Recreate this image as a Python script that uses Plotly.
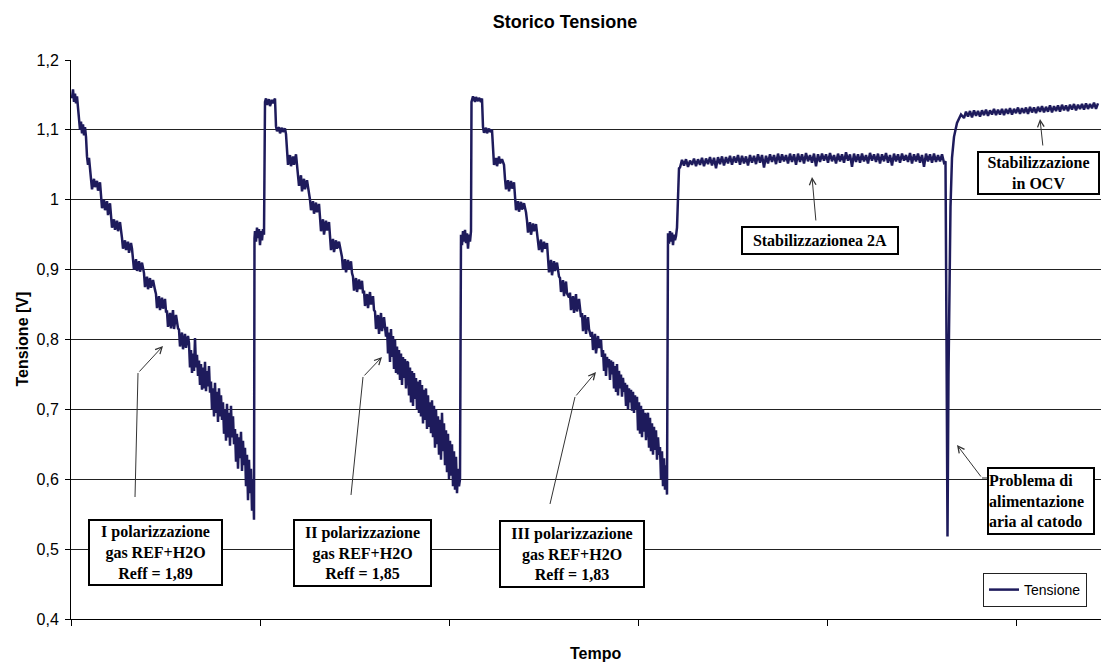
import plotly.graph_objects as go

# ---------------- data ----------------
# Tempo is in arbitrary units (no tick labels on the original axis)
tempo_pol1 = [1,2,3,4,5,6,7, 8,9,10,11,12,13,14,15, 16,17,18,19,
              20,21,23,24,26,27,29, 30,31,33,34,36,37,39,
              40,41,43,44,46,47,49,50, 51,52,54,55,57,58,60,61,
              62,63,65,66,68,69,71,72, 73,74,76,77,79,80,82,84,
              85,86,88,89,91,92,94,95, 96,97,99,100,102,103,105,107,
              108,109,111,112,114,115,117,
              118,119,120,121,122,123,124,125,126,127,
              128,129,130,131,132,133,134,135,136,137,138,139,
              140,141,142,143,144,145,146,147,148,149,150,151,
              152,153,154,155,156,157,158,159,160,161,162,163,
              164,165,166,167,168,169,170,171,172,173,
              174,175,176,177,178,179,180,181,182,183,
              183.5, 184,185,186,187,188,189,190,191,192,193,
              193.5, 194,195,196,198,199,201,202,204]
tensione_pol1 = [1.145,1.158,1.14,1.152,1.138,1.148,1.132,
                 1.118,1.1,1.112,1.095,1.108,1.092,1.104,1.09,
                 1.062,1.05,1.06,1.046,
                 1.028,1.015,1.03,1.018,1.027,1.013,1.025,
                 1.003,0.988,1.0,0.985,0.998,0.978,0.995,
                 0.975,0.96,0.972,0.957,0.97,0.955,0.968,0.958,
                 0.945,0.93,0.942,0.928,0.94,0.924,0.938,0.93,
                 0.918,0.9,0.915,0.898,0.912,0.897,0.91,0.9,
                 0.895,0.875,0.89,0.872,0.888,0.874,0.885,0.871,
                 0.865,0.845,0.862,0.842,0.86,0.844,0.858,0.84,
                 0.84,0.818,0.838,0.816,0.842,0.815,0.835,0.816,
                 0.814,0.79,0.81,0.786,0.808,0.788,0.805,
                 0.795,0.76,0.785,0.752,0.78,0.755,0.802,0.76,0.778,0.748,
                 0.77,0.735,0.765,0.728,0.76,0.73,0.768,0.726,0.755,0.733,0.762,0.724,
                 0.74,0.7,0.73,0.69,0.738,0.695,0.725,0.682,0.73,0.69,0.72,0.685,
                 0.71,0.665,0.7,0.655,0.708,0.66,0.695,0.648,0.705,0.66,0.69,0.65,
                 0.672,0.625,0.665,0.615,0.66,0.63,0.668,0.612,0.655,0.62,
                 0.645,0.59,0.635,0.57,0.628,0.58,0.615,0.555,0.6,0.542,
                 0.945, 0.955,0.94,0.96,0.945,0.958,0.935,0.955,0.942,0.958,0.95,
                 1.135, 1.14,1.145,1.136,1.144,1.134,1.143,1.138,1.145]

tempo_pol2 = [205,206,208,209,211,212,214,215, 216,217,219,220,222,223,225,226,
              227,228,230,231,233,234,236,238, 239,240,242,243,245,246,248,
              249,250,252,253,255,256,258, 259,260,262,263,265,266,268,270,
              271,272,274,275,277,278,280,281, 282,283,285,286,288,289,291,292,
              293,294,296,297,299,300,302,303, 304,305,307,308,310,311,313,315,
              316,317,318,319,320,321,322,323,324,325,
              326,327,328,329,330,331,332,333,334,335,336,
              337,338,339,340,341,342,343,344,345,346,347,348,
              349,350,351,352,353,354,355,356,357,358,359,360,
              361,362,363,364,365,366,367,368,369,370,
              371,372,373,374,375,376,377,378,379,380,381,382,383,384,385,386,387,388,389,
              389.5, 390,391,392,393,394,395,396,397,398,399,400,
              400.5, 401,402,404,405,407,408,410,411]
tensione_pol2 = [1.105,1.098,1.104,1.095,1.103,1.097,1.102,1.094,
                 1.067,1.05,1.064,1.048,1.062,1.05,1.065,1.047,
                 1.04,1.02,1.035,1.012,1.03,1.015,1.028,1.01,
                 1.0,0.985,0.998,0.98,0.996,0.982,0.994,
                 0.975,0.955,0.972,0.95,0.97,0.956,0.968,
                 0.946,0.928,0.944,0.925,0.942,0.93,0.94,0.924,
                 0.918,0.9,0.915,0.896,0.914,0.9,0.912,0.895,
                 0.89,0.87,0.888,0.868,0.886,0.872,0.884,0.866,
                 0.87,0.848,0.865,0.845,0.868,0.85,0.862,0.842,
                 0.84,0.815,0.835,0.808,0.838,0.812,0.832,0.804,
                 0.818,0.78,0.81,0.768,0.815,0.775,0.805,0.758,0.8,0.752,
                 0.79,0.75,0.785,0.742,0.78,0.735,0.775,0.745,0.772,0.73,0.768,
                 0.767,0.72,0.76,0.71,0.755,0.705,0.752,0.715,0.745,0.7,0.74,0.695,
                 0.742,0.69,0.735,0.68,0.728,0.685,0.73,0.672,0.72,0.675,0.71,0.666,
                 0.713,0.66,0.705,0.645,0.7,0.65,0.69,0.635,0.685,0.628,
                 0.695,0.64,0.68,0.62,0.67,0.61,0.665,0.6,0.655,0.605,0.65,0.59,0.64,0.585,0.632,0.58,0.615,0.59,0.6,
                 0.935, 0.95,0.935,0.955,0.94,0.957,0.938,0.952,0.93,0.95,0.94,0.955,
                 1.14, 1.142,1.148,1.14,1.147,1.141,1.146,1.14,1.145]

tempo_pol3 = [412,413,415,416,418,419,421, 422,423,425,426,428,429,431,433,
              434,435,437,438,440,441,443, 444,445,447,448,450,451,453,455,
              456,457,459,460,462,463,465,466, 467,468,470,471,473,474,476,
              477,478,480,481,483,484,486,488, 489,490,492,493,495,496,498,
              499,500,502,503,505,506,508,510, 511,512,514,515,517,518,520,
              521,522,524,525,527,528,530,531,
              532,533,534,535,536,537,538,539,540,541,
              542,543,544,545,546,547,548,549,550,551,552,553,
              554,555,556,557,558,559,560,561,562,563,564,565,
              566,567,568,569,570,571,572,573,574,575,576,
              577,578,579,580,581,582,583,584,585,586,587,588,
              589,590,591,592,593,594,595,596,
              596.5, 597,598,599,600,601,602,603,604,605, 606,607,608]
tensione_pol3 = [1.104,1.096,1.103,1.095,1.102,1.097,1.1,
                 1.063,1.05,1.06,1.048,1.062,1.052,1.058,1.05,
                 1.03,1.015,1.028,1.012,1.027,1.016,1.025,
                 1.0,0.985,0.998,0.983,0.997,0.986,0.995,0.982,
                 0.97,0.953,0.968,0.95,0.966,0.955,0.965,0.95,
                 0.945,0.928,0.943,0.925,0.94,0.93,0.938,
                 0.917,0.896,0.914,0.892,0.912,0.898,0.91,0.89,
                 0.888,0.868,0.885,0.862,0.883,0.866,0.86,
                 0.867,0.842,0.862,0.838,0.865,0.84,0.858,0.832,
                 0.838,0.812,0.835,0.808,0.832,0.815,0.804,
                 0.811,0.785,0.808,0.78,0.805,0.788,0.8,0.775,
                 0.785,0.755,0.78,0.748,0.775,0.76,0.772,0.742,0.77,0.75,
                 0.768,0.73,0.762,0.725,0.765,0.72,0.755,0.73,0.75,0.718,0.745,0.725,
                 0.738,0.705,0.735,0.7,0.73,0.71,0.728,0.698,0.725,0.695,0.72,0.7,
                 0.718,0.67,0.71,0.665,0.705,0.66,0.7,0.668,0.695,0.656,0.69,
                 0.695,0.645,0.688,0.64,0.68,0.635,0.675,0.642,0.67,0.628,0.66,0.635,
                 0.646,0.6,0.64,0.59,0.63,0.585,0.62,0.578,
                 0.94, 0.952,0.937,0.955,0.94,0.953,0.935,0.95,0.942,0.948, 0.96,1.01,1.045]

tempo_2a = list(range(609, 875, 2))
tensione_2a = [1.046,1.057,1.049,1.058,1.047,1.056,1.05,1.059,1.048,1.058,
               1.05,1.06,1.048,1.059,1.051,1.061,1.049,1.06,1.045,1.061,
               1.051,1.062,1.049,1.061,1.052,1.063,1.05,1.062,1.053,1.064,
               1.05,1.063,1.052,1.062,1.049,1.064,1.053,1.063,1.051,1.065,
               1.053,1.064,1.046,1.063,1.052,1.065,1.054,1.064,1.051,1.066,
               1.053,1.065,1.055,1.064,1.052,1.066,1.054,1.065,1.05,1.066,
               1.054,1.065,1.052,1.067,1.055,1.064,1.053,1.066,1.048,1.065,
               1.054,1.066,1.056,1.065,1.053,1.067,1.055,1.064,1.052,1.066,
               1.055,1.065,1.053,1.068,1.056,1.065,1.047,1.066,1.054,1.065,
               1.053,1.066,1.055,1.064,1.052,1.067,1.056,1.065,1.054,1.066,
               1.052,1.065,1.055,1.067,1.053,1.064,1.049,1.066,1.055,1.065,
               1.053,1.066,1.056,1.064,1.054,1.067,1.052,1.065,1.055,1.066,
               1.053,1.064,1.047,1.066,1.055,1.065,1.053,1.066,1.054,1.064,
               1.055,1.065,1.053]

tempo_guasto = [874.5, 875.5, 876.5, 877.5, 878.5, 879.5, 881, 883, 886, 890]
tensione_guasto = [1.055, 0.8, 0.518, 0.75, 0.9, 0.99, 1.06, 1.09, 1.11, 1.122]

tempo_ocv = list(range(893, 1029, 2))
tensione_ocv = [1.117,1.126,1.119,1.127,1.118,1.128,1.12,1.127,1.119,1.128,
                1.121,1.129,1.12,1.128,1.122,1.13,1.121,1.129,1.122,1.13,
                1.121,1.13,1.123,1.131,1.122,1.13,1.124,1.132,1.123,1.131,
                1.124,1.132,1.123,1.133,1.125,1.132,1.124,1.133,1.126,1.134,
                1.125,1.133,1.126,1.135,1.125,1.134,1.127,1.135,1.126,1.136,
                1.128,1.135,1.127,1.136,1.129,1.137,1.128,1.136,1.13,1.137,
                1.129,1.138,1.13,1.137,1.131,1.139,1.13,1.138]

y_ticks = [0.4, 0.5, 0.6, 0.7, 0.8, 0.9, 1.0, 1.1, 1.2]
y_labels = ["0,4", "0,5", "0,6", "0,7", "0,8", "0,9", "1", "1,1", "1,2"]
x_ticks = [0, 189, 378, 567, 756, 945]

tempo = tempo_pol1 + tempo_pol2 + tempo_pol3 + tempo_2a + tempo_guasto + tempo_ocv
tensione = tensione_pol1 + tensione_pol2 + tensione_pol3 + tensione_2a + tensione_guasto + tensione_ocv

# ---------------- figure ----------------
NAVY = "#1e1b5c"
SANS = "Liberation Sans, Arial, sans-serif"
SERIF = "Liberation Serif, Times New Roman, serif"

fig = go.Figure()
fig.add_trace(go.Scatter(x=tempo, y=tensione, mode="lines", name="Tensione",
                         line=dict(color=NAVY, width=2.5)))

fig.update_layout(
    width=1101, height=662,
    margin=dict(l=71, r=0, t=60, b=43),
    paper_bgcolor="white", plot_bgcolor="white",
    font=dict(family=SANS, color="black"),
    title=dict(text="<b>Storico Tensione</b>", x=565/1101, xanchor="center",
               y=1-22/662, yanchor="middle", font=dict(family=SANS, size=18, color="black")),
    showlegend=True,
    legend=dict(x=(983-71)/1030, y=(619-573)/559, xanchor="left", yanchor="top",
                bgcolor="white", bordercolor="#222", borderwidth=1,
                font=dict(family=SANS, size=14, color="black"), itemwidth=30),
)
fig.update_xaxes(range=[0, 1030], tickvals=x_ticks, ticktext=[""] * len(x_ticks),
                 ticks="outside", ticklen=6, tickcolor="black", showgrid=False,
                 showline=True, linecolor="black", linewidth=1, zeroline=False)
fig.update_yaxes(range=[0.4, 1.2], tickvals=y_ticks, ticktext=y_labels,
                 ticks="outside", ticklen=5, tickcolor="black", ticklabelstandoff=3,
                 tickfont=dict(family=SANS, size=16, color="black"),
                 showgrid=True, gridcolor="#222222", gridwidth=1,
                 showline=True, linecolor="black", linewidth=1, zeroline=False)

# axis titles
fig.add_annotation(text="<b>Tensione [V]</b>", xref="paper", yref="paper",
                   x=(22-71)/1030, y=0.5, xanchor="center", yanchor="middle",
                   textangle=-90, showarrow=False,
                   font=dict(family=SANS, size=16, color="black"))
fig.add_annotation(text="<b>Tempo</b>", xref="paper", yref="paper",
                   x=(595-71)/1030, y=-(653-619)/559, xanchor="center", yanchor="middle",
                   showarrow=False, font=dict(family=SANS, size=16, color="black"))

# text boxes: (text, x, y, align, width, height)
boxes = [
    ("<b>I polarizzazione<br>gas REF+H2O<br>Reff = 1,89</b>", 84.5, 0.4952, "center", 131, 63),
    ("<b>II polarizzazione<br>gas REF+H2O<br>Reff = 1,85</b>", 291.5, 0.4945, "center", 135, 64),
    ("<b>III polarizzazione<br>gas REF+H2O<br>Reff = 1,83</b>", 501, 0.493, "center", 142, 64),
    ("<b>Stabilizzazionea 2A</b>", 749, 0.9417, "center", 154, 25),
    ("<b>Stabilizzazione<br>in OCV</b>", 967.5, 1.039, "center", 119, 40),
    ("<b>Problema di<br>alimentazione<br>aria al catodo</b>", 970, 0.569, "left", 104, 64),
]
for txt, bx, by, al, bw, bh in boxes:
    fig.add_annotation(text=txt, x=bx, y=by, xref="x", yref="y", showarrow=False,
                       xanchor="center", yanchor="middle",
                       align=al, width=bw, height=bh, valign="middle",
                       bgcolor="white", bordercolor="black", borderwidth=2,
                       borderpad=0, font=dict(family=SERIF, size=16, color="black"))

# arrows (polylines with an open head at the end)
arrows = [
    [(64, 0.5746), (67, 0.752), (92, 0.7907)],
    [(280, 0.5775), (292, 0.7464), (311, 0.775)],
    [(479, 0.5646), (504, 0.7178), (525, 0.7535)],
    [(745, 0.9682), (741, 1.0326)],
    [(972, 1.0755), (969, 1.1156)],
    [(916, 0.6018), (911, 0.6018), (886, 0.649)],
]
for pts in arrows:
    if len(pts) > 2:
        path = "M " + " L ".join(f"{px},{py}" for px, py in pts[:-1])
        fig.add_shape(type="path", path=path, xref="x", yref="y",
                      line=dict(color="#333", width=1))
    (tx, ty), (hx, hy) = pts[-2], pts[-1]
    fig.add_annotation(x=hx, y=hy, ax=tx, ay=ty, xref="x", yref="y",
                       axref="x", ayref="y", text="", showarrow=True,
                       arrowhead=5, arrowsize=1.3, arrowwidth=1, arrowcolor="#333",
                       standoff=0, startstandoff=0)

fig.write_html("out.html", config={"displayModeBar": False},
               post_script="document.body.style.margin='0';document.body.style.overflow='hidden';")
